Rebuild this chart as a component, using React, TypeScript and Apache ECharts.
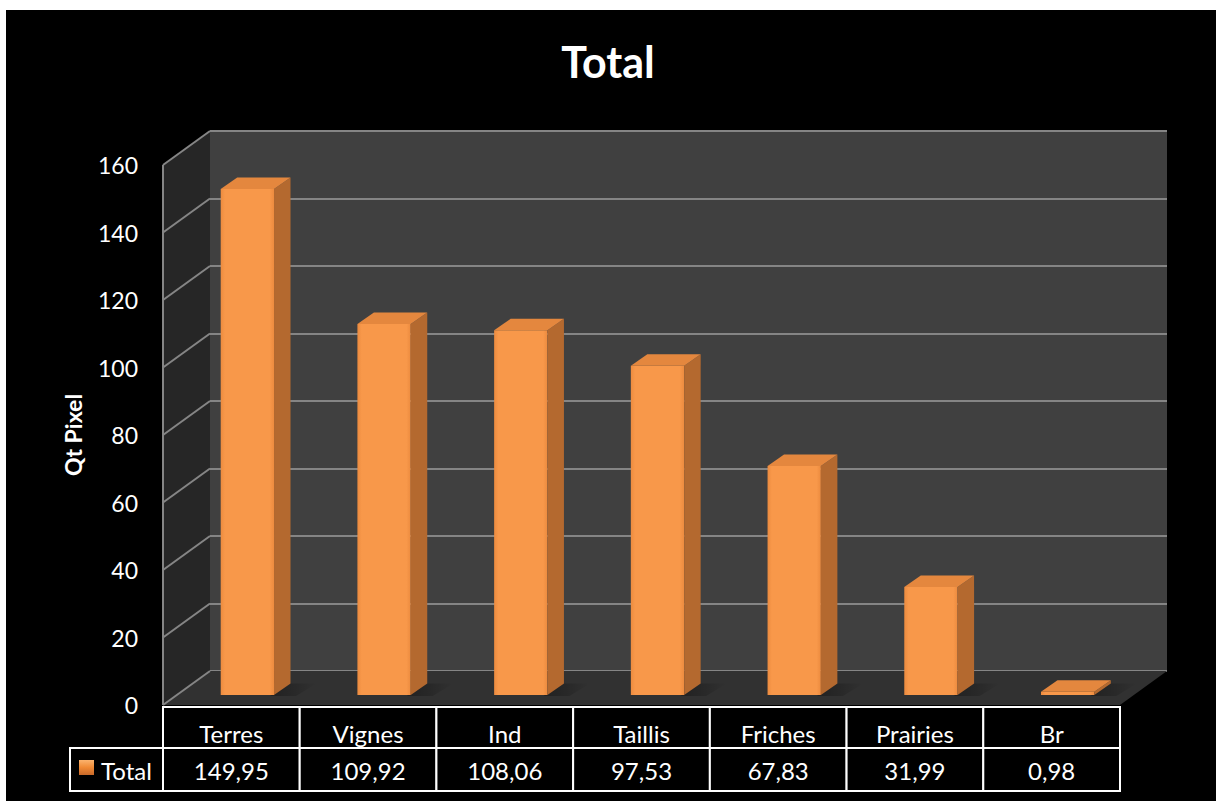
import React, { useEffect, useRef } from "react";
import * as echarts from "echarts";

// Land-cover classes and their pixel totals
const categories: string[] = ["Terres", "Vignes", "Ind", "Taillis", "Friches", "Prairies", "Br"];
const totals: number[] = [149.95, 109.92, 108.06, 97.53, 67.83, 31.99, 0.98];
const seriesName = "Total";

// Value axis ticks
const yMin = 0;
const yMax = 160;
const yStep = 20;

// 3D look: depth of the plot box and of each bar
const DEPTH_X = 47;
const DEPTH_Y = -34;
const BAR_OFF_X = 16;
const BAR_OFF_Y = -10;
const BAR_DX = 16.5;
const BAR_DY = -11.5;
const BAR_WIDTH_RATIO = 0.39;

const FONT = "Lato, 'Open Sans', sans-serif";

const fmt = (v: number) => v.toFixed(2).replace(".", ",");

export default function App() {
  const ref = useRef<HTMLDivElement>(null);

  useEffect(() => {
    if (!ref.current) return;
    const chart = echarts.init(ref.current, undefined, { renderer: "svg" });

    const ticks: number[] = [];
    for (let v = yMin; v <= yMax; v += yStep) ticks.push(v);

    const option: any = {
      animation: false,
      backgroundColor: "#ffffff",
      title: {
        text: "Total",
        left: "center",
        top: 35,
        textStyle: { color: "#ffffff", fontFamily: FONT, fontWeight: "bold", fontSize: 43 },
      },
      graphic: [
        { type: "rect", z: -10, shape: { x: 6, y: 10, width: 1216, height: 801 }, style: { fill: "#000000" }, silent: true },
        {
          type: "group",
          z: 100,
          children: [
            { type: "rect", shape: { x: 70, y: 748, width: 93, height: 43 }, style: { fill: "#000", stroke: "#ffffff", lineWidth: 2 } },
            {
              type: "rect",
              shape: { x: 79, y: 760, width: 15, height: 15 },
              style: {
                fill: new echarts.graphic.LinearGradient(0, 0, 0, 1, [
                  { offset: 0, color: "#fbb36e" },
                  { offset: 0.5, color: "#f08a35" },
                  { offset: 1, color: "#c8692a" },
                ]),
              },
            },
            {
              type: "text",
              style: { x: 101, y: 770, text: seriesName, fill: "#ffffff", font: `24px ${FONT}`, textVerticalAlign: "middle" },
            },
          ],
        },
      ],
      grid: [
        // front plane of the 3D box
        { left: 163, right: 96, top: 165, bottom: 96 },
        // back wall
        { left: 163 + DEPTH_X, right: 96 - DEPTH_X, top: 165 + DEPTH_Y, bottom: 96 - DEPTH_Y, show: true, backgroundColor: "#404040", borderWidth: 0 },
      ],
      xAxis: [
        { gridIndex: 0, type: "category", data: categories, show: false },
        { gridIndex: 1, type: "category", data: categories, show: false },
      ],
      yAxis: [
        {
          gridIndex: 0,
          type: "value",
          min: yMin,
          max: yMax,
          interval: yStep,
          name: "Qt Pixel",
          nameLocation: "middle",
          nameRotate: 90,
          nameGap: 79,
          nameTextStyle: { color: "#ffffff", fontFamily: FONT, fontWeight: "bold", fontSize: 23 },
          axisLine: { show: false },
          axisTick: { show: false },
          splitLine: { show: false },
          axisLabel: { color: "#ffffff", fontFamily: FONT, fontSize: 23, margin: 25, padding: [6, 0, 0, 0] },
        },
        {
          gridIndex: 1,
          type: "value",
          min: yMin,
          max: yMax,
          interval: yStep,
          axisLine: { show: false },
          axisTick: { show: false },
          axisLabel: { show: false },
          splitLine: { show: true, lineStyle: { color: "#858585", width: 2 } },
        },
      ],
      series: [
        // floor and left wall
        {
          type: "custom",
          xAxisIndex: 0,
          yAxisIndex: 0,
          silent: true,
          z: 1,
          data: [[0, 0]],
          renderItem: (params: any, api: any) => {
            const cs = params.coordSys;
            const x0 = cs.x;
            const x1 = cs.x + cs.width;
            const yTop = cs.y;
            const yBot = cs.y + cs.height;
            const children: any[] = [
              {
                type: "polygon",
                shape: { points: [[x0, yBot], [x1, yBot], [x1 + DEPTH_X, yBot + DEPTH_Y], [x0 + DEPTH_X, yBot + DEPTH_Y]] },
                style: { fill: "#313131" },
              },
              {
                type: "polygon",
                shape: { points: [[x0, yTop], [x0 + DEPTH_X, yTop + DEPTH_Y], [x0 + DEPTH_X, yBot + DEPTH_Y], [x0, yBot]] },
                style: { fill: "#262626" },
              },
            ];
            ticks.forEach((v) => {
              const y = api.coord([0, v])[1];
              children.push({
                type: "line",
                shape: { x1: x0, y1: y, x2: x0 + DEPTH_X, y2: y + DEPTH_Y },
                style: { stroke: "#858585", lineWidth: 2 },
              });
            });
            children.push({
              type: "line",
              shape: { x1: x0, y1: yTop, x2: x0, y2: yBot },
              style: { stroke: "#858585", lineWidth: 2 },
            });
            return { type: "group", children };
          },
        },
        // 3D bars
        {
          type: "custom",
          name: seriesName,
          xAxisIndex: 0,
          yAxisIndex: 0,
          silent: true,
          z: 5,
          data: totals.map((v, i) => [i, v]),
          encode: { x: 0, y: 1 },
          renderItem: (params: any, api: any) => {
            const idx = api.value(0);
            const val = api.value(1);
            const base = api.coord([idx, 0]);
            const top = api.coord([idx, val]);
            const band = api.size([1, 0])[0];
            const w = band * BAR_WIDTH_RATIO;
            const l = base[0] + BAR_OFF_X - w / 2;
            const r = l + w;
            const yb = base[1] + BAR_OFF_Y;
            const yt = top[1] + BAR_OFF_Y;
            return {
              type: "group",
              children: [
                {
                  type: "polygon",
                  shape: { points: [[r - 4, yb + 1], [r + BAR_DX, yb + BAR_DY], [r + BAR_DX + 26, yb + BAR_DY], [r + 22, yb + 1]] },
                  style: {
                    fill: new echarts.graphic.LinearGradient(0, 0, 1, 0, [
                      { offset: 0, color: "rgba(0,0,0,0.32)" },
                      { offset: 0.5, color: "rgba(0,0,0,0.18)" },
                      { offset: 1, color: "rgba(0,0,0,0)" },
                    ]),
                  },
                },
                {
                  type: "rect",
                  shape: { x: l, y: yt, width: w, height: yb - yt },
                  style: {
                    fill: new echarts.graphic.LinearGradient(0, 0, 1, 0, [
                      { offset: 0, color: "#ec8b3f" },
                      { offset: 0.08, color: "#f8984a" },
                      { offset: 0.92, color: "#f8984a" },
                      { offset: 1, color: "#ec8b3f" },
                    ]),
                  },
                },
                {
                  type: "polygon",
                  shape: { points: [[r, yt], [r + BAR_DX, yt + BAR_DY], [r + BAR_DX, yb + BAR_DY], [r, yb]] },
                  style: { fill: "#b4692f" },
                },
                {
                  type: "polygon",
                  shape: { points: [[l, yt], [l + BAR_DX, yt + BAR_DY], [r + BAR_DX, yt + BAR_DY], [r, yt]] },
                  style: { fill: "#e4873e" },
                },
              ],
            };
          },
        },
        // data table under the plot
        {
          type: "custom",
          xAxisIndex: 0,
          yAxisIndex: 0,
          silent: true,
          z: 10,
          data: categories.map((_, i) => [i, 0]),
          encode: { x: 0, y: 1 },
          renderItem: (params: any, api: any) => {
            const idx = api.value(0);
            const base = api.coord([idx, 0]);
            const band = api.size([1, 0])[0];
            const x = base[0] - band / 2;
            const y1 = base[1] + 2;
            const y2 = base[1] + 43;
            return {
              type: "group",
              children: [
                { type: "rect", shape: { x, y: y1, width: band, height: 41 }, style: { fill: "#000", stroke: "#ffffff", lineWidth: 2 } },
                { type: "rect", shape: { x, y: y2, width: band, height: 43 }, style: { fill: "#000", stroke: "#ffffff", lineWidth: 2 } },
                {
                  type: "text",
                  style: { x: base[0], y: y1 + 26, text: categories[idx], fill: "#ffffff", font: `24px ${FONT}`, textAlign: "center", textVerticalAlign: "middle" },
                },
                {
                  type: "text",
                  style: { x: base[0], y: y2 + 22, text: fmt(totals[idx]), fill: "#ffffff", font: `24px ${FONT}`, textAlign: "center", textVerticalAlign: "middle" },
                },
              ],
            };
          },
        },
      ],
    };

    chart.setOption(option);
    return () => chart.dispose();
  }, []);

  return <div ref={ref} style={{ position: "absolute", left: 0, top: 0, width: 1216, height: 801 }} />;
}
